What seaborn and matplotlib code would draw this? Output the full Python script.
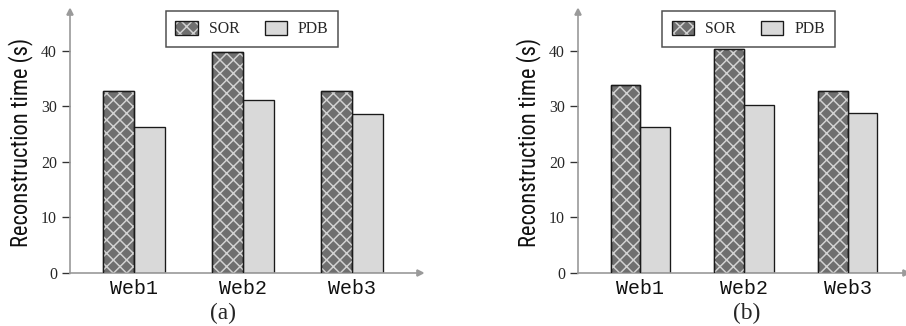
import pandas as pd
import matplotlib
matplotlib.use("Agg")
import matplotlib.pyplot as plt
import seaborn as sns
from matplotlib.patches import Patch, Rectangle


# Data
websites = ["Web1", "Web2", "Web3"]
methods = ["SOR", "PDB"]

sor_a = [32.8, 39.8, 32.8]
pdb_a = [26.3, 31.2, 28.6]

sor_b = [33.9, 40.3, 32.8]
pdb_b = [26.3, 30.3, 28.8]

y_ticks = [0, 10, 20, 30, 40]
captions = ["(a)", "(b)"]


# Colours
SOR_FACE = "#6f6f6f"
SOR_HATCH = "#d2d2d2"
PDB_FACE = "#d9d9d9"
EDGE = "#1a1a1a"
AXIS_GREY = "#9a9a9a"

sns.set_style("white")
plt.rcParams["font.family"] = ["Liberation Serif", "DejaVu Serif"]
plt.rcParams["hatch.linewidth"] = 0.9


def make_frame(sor, pdb):
    rows = []
    for web, s, p in zip(websites, sor, pdb):
        rows.append({"site": web, "method": "SOR", "time": s})
        rows.append({"site": web, "method": "PDB", "time": p})
    return pd.DataFrame(rows)


def draw_panel(ax, sor, pdb, xlim, label_x):

    df = make_frame(sor, pdb)

    sns.barplot(
        data=df,
        x="site",
        y="time",
        hue="method",
        hue_order=methods,
        order=websites,
        palette={"SOR": SOR_FACE, "PDB": PDB_FACE},
        saturation=1,
        width=0.57,
        edgecolor=EDGE,
        linewidth=0.8,
        legend=False,
        ax=ax
    )

    # cross hatch on SOR bars, light lines on the dark fill
    for bar in ax.containers[0]:
        x, w, h = bar.get_x(), bar.get_width(), bar.get_height()
        ax.add_patch(Rectangle(
            (x, 0), w, h,
            fill=False, hatch="xxx",
            edgecolor=SOR_HATCH, linewidth=0, zorder=3
        ))
        ax.add_patch(Rectangle(
            (x, 0), w, h,
            fill=False, edgecolor=EDGE, linewidth=0.8, zorder=4
        ))

    ax.set_xlim(*xlim)
    ax.set_ylim(0, 47)
    ax.set_yticks(y_ticks)
    ax.set_yticklabels([str(t) for t in y_ticks], fontsize=9.5)

    for lab in ax.get_xticklabels():
        lab.set_fontfamily(["Liberation Mono", "DejaVu Sans Mono"])
        lab.set_fontsize(12)
        lab.set_color("#111111")

    ax.tick_params(axis="y", length=4.8, width=0.8, color="#333333",
                   pad=3, left=True)
    ax.tick_params(axis="x", length=0, pad=3.5)

    ax.set_xlabel("")
    ax.set_ylabel(
        "Reconstruction time (s)",
        fontfamily=["Roboto Condensed", "DejaVu Sans"],
        fontsize=13.5,
        color="#111111"
    )
    ax.yaxis.set_label_coords(label_x, 0.5)

    sns.despine(ax=ax)
    for side in ["left", "bottom"]:
        ax.spines[side].set_color(AXIS_GREY)
        ax.spines[side].set_linewidth(1.0)

    # arrow heads on the axes
    ax.plot(1, 0, ">", color=AXIS_GREY, markersize=4,
            transform=ax.transAxes, clip_on=False)
    ax.plot(0, 1, "^", color=AXIS_GREY, markersize=4,
            transform=ax.transAxes, clip_on=False)

    handles = [
        (
            Patch(facecolor=SOR_FACE, edgecolor="none"),
            Patch(fill=False, hatch="xxx", edgecolor=SOR_HATCH, linewidth=0),
            Patch(fill=False, edgecolor=EDGE, linewidth=0.8)
        ),
        Patch(facecolor=PDB_FACE, edgecolor=EDGE, linewidth=0.8)
    ]
    leg = ax.legend(
        handles,
        methods,
        ncol=2,
        loc="center",
        bbox_to_anchor=(0.52, 0.935),
        fontsize=9.5,
        frameon=True,
        fancybox=False,
        edgecolor="#222222",
        handlelength=1.4,
        handleheight=1.0,
        handletextpad=0.7,
        columnspacing=1.6,
        borderpad=0.6,
        borderaxespad=0
    )
    leg.get_frame().set_linewidth(0.9)


fig = plt.figure(figsize=(906 / 120, 326 / 120), dpi=120)

ax_a = fig.add_axes([70 / 906, 1 - 273 / 326, 350 / 906, 261 / 326])
ax_b = fig.add_axes([578 / 906, 1 - 273 / 326, 328 / 906, 261 / 326])

draw_panel(ax_a, sor_a, pdb_a, (-0.59, 2.62), -37 / 350)
draw_panel(ax_b, sor_b, pdb_b, (-0.6, 2.56), -37 / 328)

fig.text(223 / 906, 1 - 313 / 326, captions[0], ha="center",
         va="center", fontsize=14)
fig.text(747 / 906, 1 - 313 / 326, captions[1], ha="center",
         va="center", fontsize=14)

fig.savefig("out.png", dpi=120)
plt.close(fig)
